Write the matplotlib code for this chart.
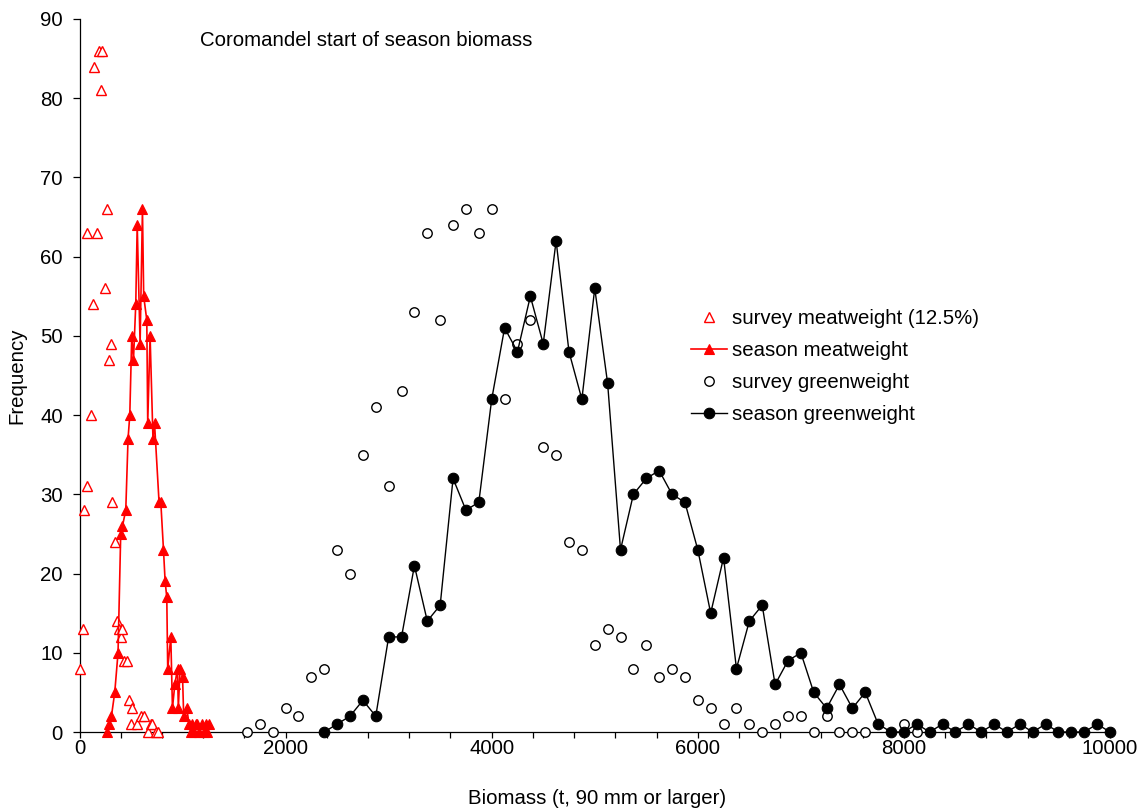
import matplotlib
matplotlib.use("Agg")
import matplotlib.pyplot as plt
from matplotlib.ticker import MultipleLocator

plt.rcParams['font.family'] = ['Liberation Sans', 'DejaVu Sans']

# ---- survey meatweight (12.5 % of greenweight) ----
mw_survey_x = [5, 31, 44, 70, 77, 109, 128, 141, 174, 189, 206, 222, 247, 271,
               287, 310, 320, 345, 361, 384, 400, 417, 432, 465, 481, 497, 514,
               556, 594, 627, 660, 692, 708, 740, 757]
mw_survey_y = [8, 13, 28, 31, 63, 40, 54, 84, 63, 86, 81, 86, 56, 66,
               47, 49, 29, 24, 14, 13, 12, 13, 9, 9, 4, 1, 3,
               1, 2, 2, 0, 1, 1, 0, 0]

# ---- season meatweight ----
mw_season_x = [271, 287, 310, 342, 374, 400, 417, 449, 471, 488, 507, 524,
               546, 560, 588, 611, 623, 653, 662, 685, 713, 728, 772, 789,
               815, 831, 847, 856, 886, 902, 925, 951, 959, 976, 1000, 1011,
               1041, 1063, 1080, 1096, 1112, 1128, 1145, 1160, 1193, 1210,
               1226, 1242, 1258]
mw_season_y = [0, 1, 2, 5, 10, 25, 26, 28, 37, 40, 50, 47,
               54, 64, 49, 66, 55, 52, 39, 50, 37, 39, 29, 29,
               23, 19, 17, 8, 12, 3, 6, 8, 3, 8, 7, 2,
               3, 1, 0, 1, 0, 1, 1, 0, 1, 0,
               1, 0, 1]

# ---- survey greenweight ----
gw_survey_x = [1625, 1750, 1875, 2000, 2125, 2250, 2375, 2500, 2625, 2750,
               2875, 3000, 3125, 3250, 3375, 3500, 3625, 3750, 3875, 4000,
               4125, 4250, 4375, 4500, 4625, 4750, 4875, 5000, 5125, 5250,
               5375, 5500, 5625, 5750, 5875, 6000, 6125, 6250, 6375, 6500,
               6625, 6750, 6875, 7000, 7125, 7250, 7375, 7500, 7625,
               8000, 8125]
gw_survey_y = [0, 1, 0, 3, 2, 7, 8, 23, 20, 35,
               41, 31, 43, 53, 63, 52, 64, 66, 63, 66,
               42, 49, 52, 36, 35, 24, 23, 11, 13, 12,
               8, 11, 7, 8, 7, 4, 3, 1, 3, 1,
               0, 1, 2, 2, 0, 2, 0, 0, 0,
               1, 0]

# ---- season greenweight ----
gw_season_x = [2375, 2500, 2625, 2750, 2875, 3000, 3125, 3250, 3375, 3500,
               3625, 3750, 3875, 4000, 4125, 4250, 4375, 4500, 4625, 4750,
               4875, 5000, 5125, 5250, 5375, 5500, 5625, 5750, 5875, 6000,
               6125, 6250, 6375, 6500, 6625, 6750, 6875, 7000, 7125, 7250,
               7375, 7500, 7625, 7750, 7875, 8000, 8125, 8250, 8375, 8500,
               8625, 8750, 8875, 9000, 9125, 9250, 9375, 9500, 9625, 9750,
               9875, 10000]
gw_season_y = [0, 1, 2, 4, 2, 12, 12, 21, 14, 16,
               32, 28, 29, 42, 51, 48, 55, 49, 62, 48,
               42, 56, 44, 23, 30, 32, 33, 30, 29, 23,
               15, 22, 8, 14, 16, 6, 9, 10, 5, 3,
               6, 3, 5, 1, 0, 0, 1, 0, 1, 0,
               1, 0, 1, 0, 1, 0, 1, 0, 0, 0,
               1, 0]

labels = ['survey meatweight (12.5%)', 'season meatweight',
          'survey greenweight', 'season greenweight']

FS = 14.7
W, H = 1145, 808

fig = plt.figure(figsize=(W / 100, H / 100), dpi=100)
ax = fig.add_axes([79.5 / W, 1 - 732 / H, (1110 - 79.5) / W, (732 - 19) / H])

ax.plot(mw_survey_x, mw_survey_y, linestyle='none', marker='^', ms=7.2,
        mfc='white', mec='red', mew=1.0, clip_on=False, zorder=3, label=labels[0])
ax.plot(mw_season_x, mw_season_y, color='red', lw=1.2, marker='^', ms=7.4,
        mfc='red', mec='red', mew=0.8, clip_on=False, zorder=4, label=labels[1])
ax.plot(gw_survey_x, gw_survey_y, linestyle='none', marker='o', ms=6.8,
        mfc='white', mec='black', mew=1.0, clip_on=False, zorder=5, label=labels[2])
ax.plot(gw_season_x, gw_season_y, color='black', lw=1.0, marker='o', ms=7.6,
        mfc='black', mec='black', mew=0.8, clip_on=False, zorder=6, label=labels[3])

ax.set_xlim(0, 10000)
ax.set_ylim(0, 90)
ax.spines['top'].set_visible(False)
ax.spines['right'].set_visible(False)
for s in ('left', 'bottom'):
    ax.spines[s].set_linewidth(0.9)
    ax.spines[s].set_zorder(2)

ax.xaxis.set_major_locator(MultipleLocator(2000))
ax.xaxis.set_minor_locator(MultipleLocator(400))
ax.yaxis.set_major_locator(MultipleLocator(10))
ax.tick_params(axis='x', which='major', direction='out', length=4, width=0.9,
               labelsize=FS, pad=1)
ax.tick_params(axis='x', which='minor', direction='out', length=4, width=0.9)
ax.tick_params(axis='y', which='major', direction='out', length=5, width=0.9,
               labelsize=FS, pad=7)

fig.text(200 / W, 1 - 40 / H, 'Coromandel start of season biomass',
         fontsize=FS, ha='left', va='center')
fig.text(597 / W, 1 - 798 / H, 'Biomass (t, 90 mm or larger)',
         fontsize=FS, ha='center', va='center')
fig.text(17 / W, 1 - 376 / H, 'Frequency', fontsize=FS, rotation=90,
         ha='center', va='center')

leg = ax.legend(loc='upper left', bbox_to_anchor=(691 / W, 1 - 309 / H),
                bbox_transform=fig.transFigure, frameon=False, fontsize=FS,
                numpoints=1, handlelength=1.76, handletextpad=0.25,
                labelspacing=0.64, borderpad=0, borderaxespad=0)

fig.savefig('out.png', dpi=100)
